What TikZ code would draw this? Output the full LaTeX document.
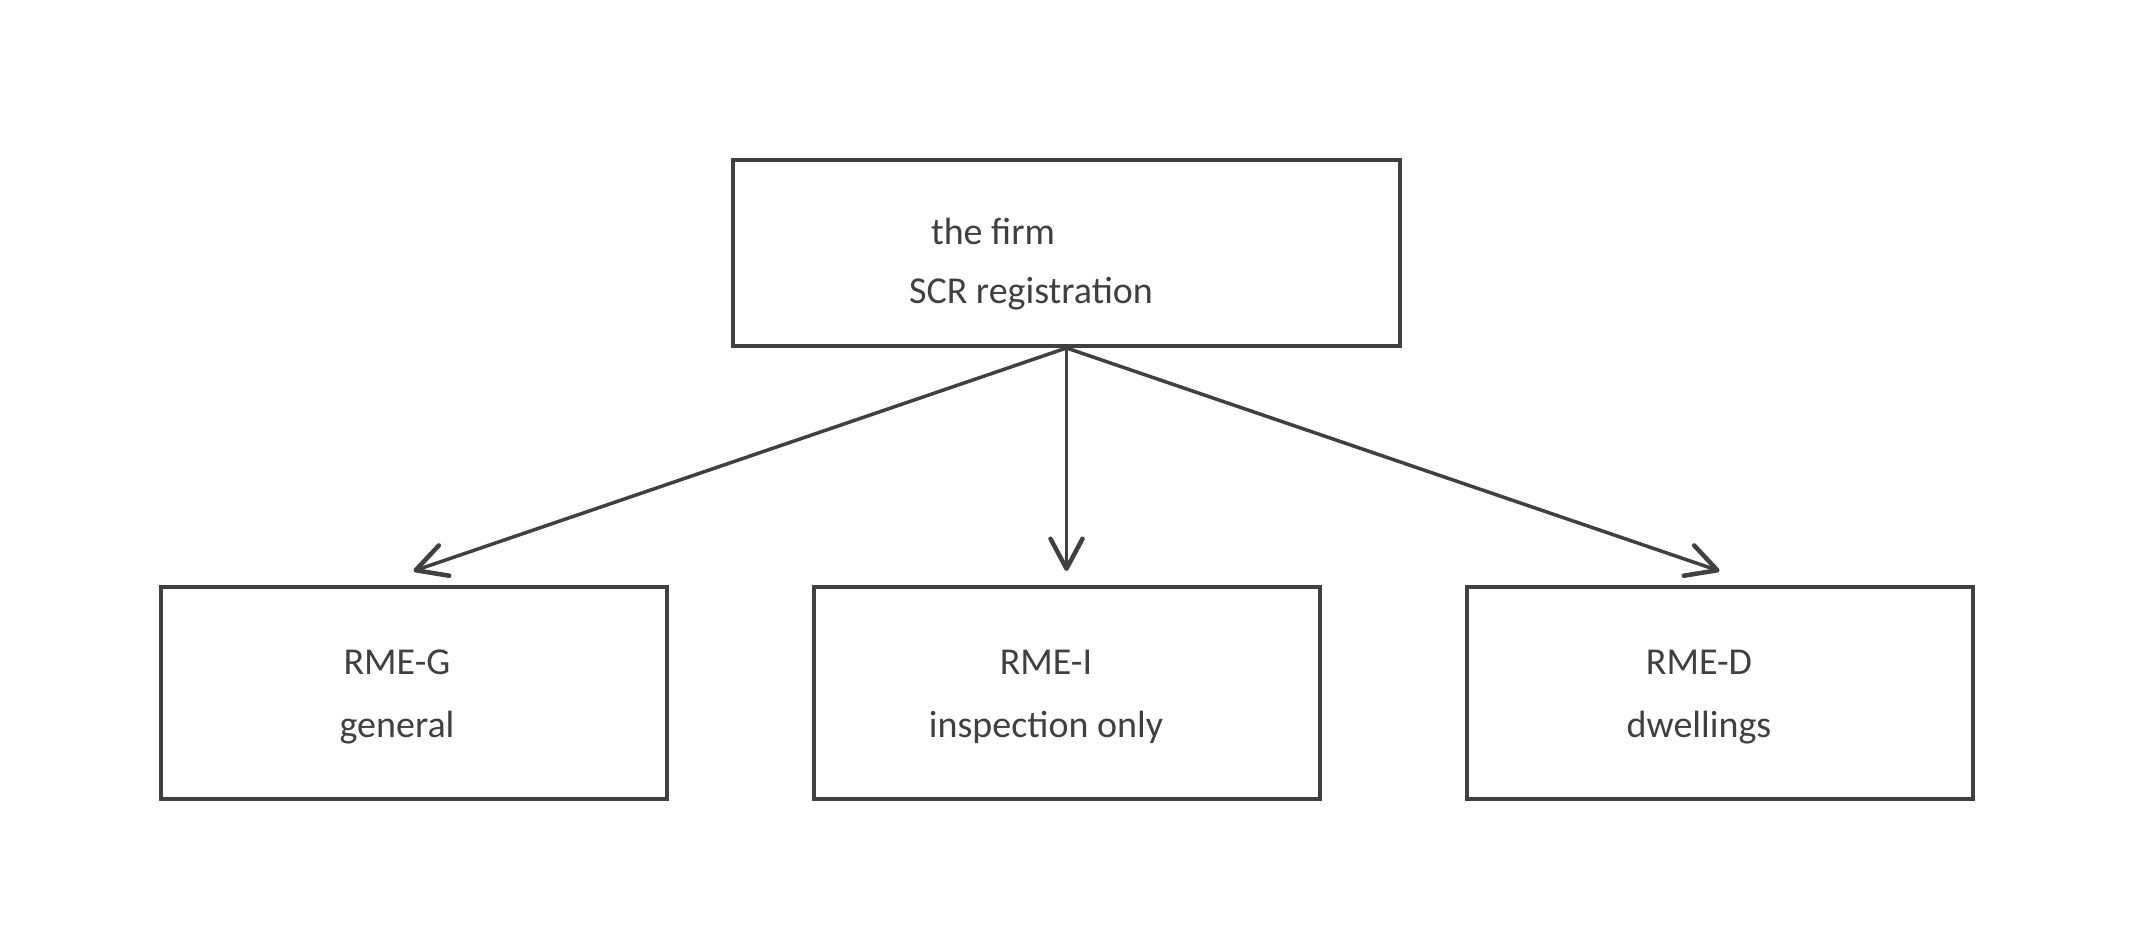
\documentclass[tikz,border=0pt]{standalone}
\usepackage{fontspec}
\setmainfont{Carlito}
\usepackage{tikz}
\usetikzlibrary{arrows.meta}
\usetikzlibrary{positioning}
\definecolor{inkgrey}{RGB}{64,64,64}
\tikzset{
  box/.style = {draw=inkgrey, line width=4pt, rectangle, inner sep=0pt},
  box_top/.style = {box, minimum width=667pt, minimum height=186pt},% the firm
  box_rme/.style = {box, minimum width=506pt, minimum height=212pt},% RME-x
  txt/.style = {inkgrey, align=center, font=\fontsize{38}{63}\selectfont}
}

\begin{document}
\begin{tikzpicture}[x=1pt,y=1pt,
  edge from parent/.style={draw=inkgrey, line width=3.5pt,
    -{Straight Barb[length=30pt,width=32pt,line width=4.5pt,round]}},
  edge from parent path={(\tikzparentnode.south) -- ([yshift=14pt]\tikzchildnode.north)},
  level/.style={sibling distance=653pt, level distance=440pt}]
\useasboundingbox (0,0) rectangle (2133,933);
\node [box_top] (firm) at (1066.5,680) {}
    child{ node [box_rme] (rmeg) {} }
    child{ node [box_rme] (rmei) {} }
    child{ node [box_rme] (rmed) {} }
;
\node [txt] (firm_a) at ([xshift=-73.5pt,yshift=22pt]firm.center) {the firm};
\node [txt] (firm_b) at ([xshift=-35.5pt,yshift=-41pt]firm.center) {SCR registration};
\node [txt] (rmeg_t) at ([xshift=-16.5pt,yshift=-4pt]rmeg.center) {RME-G\\general};
\node [txt] (rmei_t) at ([xshift=-20.5pt,yshift=-4pt]rmei.center) {RME-I\\inspection only};
\node [txt] (rmed_t) at ([xshift=-20.5pt,yshift=-4pt]rmed.center) {RME-D\\dwellings};
\end{tikzpicture}
\end{document}
